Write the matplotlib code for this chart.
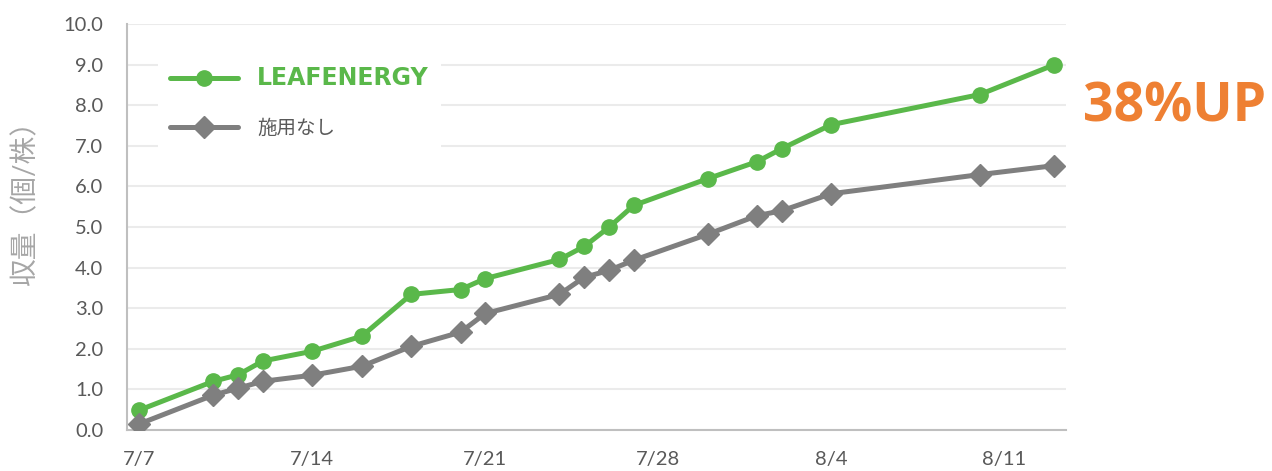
import matplotlib
matplotlib.use("Agg")
import matplotlib.pyplot as plt
import pandas as pd

plt.rcParams['font.family'] = ['Lato', 'Noto Sans CJK JP', 'DejaVu Sans']

# ---- data ----
dates = ["7/7", "7/10", "7/11", "7/12", "7/14", "7/16", "7/18", "7/20", "7/21",
         "7/24", "7/25", "7/26", "7/27", "7/30", "8/1", "8/2", "8/4", "8/10", "8/13"]
leafenergy = [0.49, 1.20, 1.36, 1.70, 1.94, 2.31, 3.34, 3.46, 3.73,
              4.20, 4.52, 4.99, 5.53, 6.19, 6.61, 6.93, 7.52, 8.26, 8.99]
control = [0.15, 0.86, 1.03, 1.20, 1.35, 1.57, 2.06, 2.41, 2.87,
           3.34, 3.76, 3.93, 4.18, 4.82, 5.28, 5.40, 5.82, 6.29, 6.51]
tick_dates = ["7/7", "7/14", "7/21", "7/28", "8/4", "8/11"]
series_names = ["LEAFENERGY", "施用なし"]
ylabel = "収量（個/株）"
callout = "38%UP"

def to_dt(s):
    m, d = s.split("/")
    return pd.Timestamp(year=2021, month=int(m), day=int(d))

x = [to_dt(s) for s in dates]
xt = [to_dt(s) for s in tick_dates]

GREEN = "#5AB84A"
GREY = "#7F7F7F"
TXT = "#595959"

fig = plt.figure(figsize=(12.72, 4.71), dpi=100)
ax = fig.add_axes([127/1272, 41/471, 939/1272, 406/471])

ax.plot(x, leafenergy, color=GREEN, lw=3.6, marker="o", ms=11,
        label=series_names[0], zorder=3, solid_capstyle="round")
ax.plot(x, control, color=GREY, lw=3.6, marker="D", ms=11,
        label=series_names[1], zorder=3, solid_capstyle="round")

ax.set_ylim(0, 10)
ax.set_yticks([i for i in range(11)])
ax.yaxis.set_major_formatter(plt.FuncFormatter(lambda v, p: f"{v:.1f}"))
ax.set_xlim(x[0] - pd.Timedelta(hours=12), x[-1] + pd.Timedelta(hours=12))
ax.set_xticks(xt)
ax.set_xticklabels(tick_dates)

ax.grid(axis="y", color="#EBEBEB", lw=1.5, zorder=0)
ax.set_axisbelow(True)
for s in ["top", "right"]:
    ax.spines[s].set_visible(False)
for s in ["left", "bottom"]:
    ax.spines[s].set_color("#BFBFBF")
    ax.spines[s].set_linewidth(1.5)

ax.tick_params(axis="y", length=0, pad=17, labelsize=14.5, labelcolor=TXT)
ax.tick_params(axis="x", length=0, pad=15, labelsize=14.5, labelcolor=TXT)

ax.set_ylabel(ylabel, fontsize=20, color="#A6A6A6")
ax.yaxis.set_label_coords(-0.0948, 0.575)

leg = ax.legend(loc="upper left", bbox_to_anchor=(158/1272, 1 - 54/471),
                bbox_transform=fig.transFigure, frameon=True, fancybox=False,
                edgecolor="none", facecolor="white", framealpha=1,
                fontsize=14, handlelength=3.5, handletextpad=1.0,
                labelspacing=1.45, borderpad=0.6, borderaxespad=0)
t0, t1 = leg.get_texts()
t0.set_color(GREEN)
t0.set_fontweight("heavy")
t0.set_fontfamily(["DejaVu Sans"])
t0.set_fontsize(17)
t1.set_color(TXT)
t1.set_fontfamily(["Noto Sans CJK JP"])

fig.text(1083/1272, 1 - 107/471, callout, fontsize=38.5, fontweight="bold",
         color="#EE8033", ha="left", va="center", family=["Open Sans"])

fig.savefig("out.png", dpi=100)
